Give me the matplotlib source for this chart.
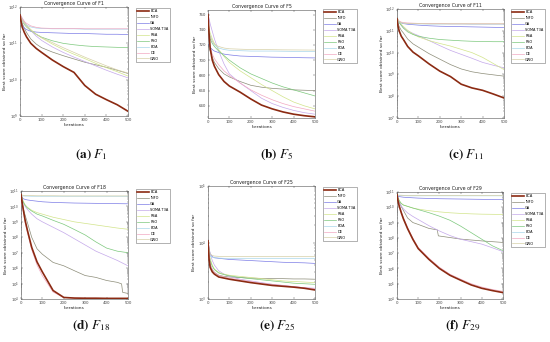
import matplotlib
matplotlib.use("Agg")
import matplotlib.pyplot as plt
import numpy as np
from matplotlib.ticker import LogLocator, LogFormatterMathtext, NullFormatter

plt.rcParams['mathtext.fontset'] = 'stix'

ALGOS = ["BCA", "INFO", "GA", "SOMA T3A", "RSA", "PSO", "BOA", "DE", "GWO"]
COLORS = ["#8B2A12", "#8C8C78", "#7C7CE6", "#C4A8EA", "#D2E48A",
          "#7CC87C", "#A8D6EA", "#F2A8C2", "#D6D0A6"]

ITERS = [0, 5, 10, 20, 30, 50, 75, 100, 150, 200, 250, 300, 350, 400, 450, 500]

# ---- F1 (log10 of best score) ----
F1_LOG = {
    "BCA":      [11.78, 11.6, 11.45, 11.3, 11.18, 11.0, 10.86, 10.75, 10.54, 10.36, 10.2, 9.84, 9.6, 9.45, 9.31, 9.13],
    "INFO":     [11.78, 11.65, 11.55, 11.42, 11.3, 11.12, 10.98, 10.88, 10.76, 10.66, 10.57, 10.48, 10.41, 10.34, 10.26, 10.17],
    "GA":       [11.78, 11.6, 11.5, 11.42, 11.38, 11.33, 11.31, 11.3, 11.29, 11.28, 11.27, 11.27, 11.26, 11.25, 11.25, 11.24],
    "SOMA T3A": [11.8, 11.75, 11.7, 11.6, 11.5, 11.35, 11.2, 11.08, 10.9, 10.75, 10.62, 10.5, 10.38, 10.26, 10.15, 10.05],
    "RSA":      [11.8, 11.72, 11.66, 11.57, 11.5, 11.38, 11.25, 11.15, 10.98, 10.83, 10.7, 10.58, 10.45, 10.33, 10.22, 10.1],
    "PSO":      [11.8, 11.7, 11.62, 11.52, 11.45, 11.35, 11.25, 11.17, 11.07, 11.0, 10.96, 10.93, 10.91, 10.9, 10.89, 10.88],
    "BOA":      [11.8, 11.7, 11.62, 11.55, 11.5, 11.45, 11.42, 11.41, 11.4, 11.4, 11.4, 11.39, 11.39, 11.39, 11.39, 11.39],
    "DE":       [11.8, 11.75, 11.68, 11.6, 11.55, 11.48, 11.44, 11.42, 11.41, 11.41, 11.41, 11.4, 11.4, 11.4, 11.4, 11.4],
    "GWO":      [11.8, 11.72, 11.64, 11.55, 11.47, 11.36, 11.25, 11.16, 11.02, 10.88, 10.75, 10.62, 10.5, 10.38, 10.27, 10.18],
}

# ---- F5 (best score) ----
F5_VAL = {
    "BCA":      [760, 735, 716, 700, 692, 681, 672, 666, 658, 649, 641, 636, 632, 629, 627, 625.5],
    "INFO":     [720, 716, 712, 704, 697, 689, 682, 678, 672, 667, 664.5, 663, 662, 661, 660.5, 660],
    "GA":       [721, 719, 717, 714, 712, 710, 708, 707, 705.5, 705, 704.5, 704, 703.8, 703.5, 703.2, 703],
    "SOMA T3A": [762, 755, 748, 738, 728, 712, 695, 682, 670, 660, 650, 643, 638, 634, 631, 629],
    "RSA":      [750, 742, 736, 728, 722, 714, 705, 697, 686, 677, 668, 660, 652, 645, 640, 636],
    "PSO":      [740, 733, 728, 722, 718, 712, 706, 700, 690, 682, 676, 670, 665, 661, 657, 653],
    "BOA":      [745, 738, 732, 725, 720, 716, 714, 713, 712.5, 712, 712, 712, 711.8, 711.6, 711.5, 711.5],
    "DE":       [735, 725, 717, 708, 702, 694, 686, 680, 670, 661, 654, 648, 643, 639, 636, 633],
    "GWO":      [750, 740, 732, 725, 721, 718, 716, 715, 714.5, 714, 714, 713.8, 713.6, 713.5, 713.4, 713.3],
}

# ---- F11 (log10) ----
F11_LOG = {
    "BCA":      [11.55, 11.2, 11.0, 10.75, 10.6, 10.28, 10.02, 9.85, 9.48, 9.15, 8.9, 8.55, 8.38, 8.27, 8.1, 7.92],
    "INFO":     [11.55, 11.35, 11.2, 11.02, 10.9, 10.62, 10.4, 10.25, 9.95, 9.7, 9.45, 9.25, 9.12, 9.04, 8.98, 8.92],
    "GA":       [11.55, 11.45, 11.4, 11.36, 11.33, 11.3, 11.28, 11.26, 11.23, 11.21, 11.2, 11.19, 11.18, 11.17, 11.16, 11.15],
    "SOMA T3A": [11.6, 11.5, 11.4, 11.25, 11.15, 11.0, 10.88, 10.78, 10.55, 10.32, 10.1, 9.92, 9.74, 9.55, 9.42, 9.3],
    "RSA":      [11.6, 11.5, 11.42, 11.3, 11.2, 11.02, 10.85, 10.72, 10.55, 10.42, 10.3, 10.15, 10.0, 9.78, 9.5, 9.22],
    "PSO":      [11.6, 11.48, 11.38, 11.25, 11.12, 10.95, 10.83, 10.75, 10.66, 10.6, 10.57, 10.54, 10.52, 10.51, 10.5, 10.5],
    "BOA":      [11.6, 11.45, 11.4, 11.37, 11.35, 11.33, 11.32, 11.32, 11.31, 11.31, 11.31, 11.31, 11.3, 11.3, 11.3, 11.3],
    "DE":       [11.6, 11.5, 11.45, 11.4, 11.38, 11.36, 11.35, 11.34, 11.33, 11.33, 11.32, 11.32, 11.32, 11.32, 11.32, 11.32],
    "GWO":      [11.6, 11.5, 11.42, 11.38, 11.35, 11.34, 11.33, 11.33, 11.32, 11.32, 11.32, 11.32, 11.32, 11.32, 11.32, 11.32],
}

# ---- F18 (log10) ----
F18_INFO_ITERS = [0, 5, 10, 20, 30, 50, 75, 100, 150, 200, 250, 300, 350, 400, 450, 470, 475, 500]
F18_INFO_LOG = [10.78, 10.3, 9.9, 9.4, 8.95, 8.0, 7.25, 6.9, 6.37, 6.15, 5.83, 5.52, 5.4, 5.2, 5.08, 4.98, 4.43, 4.36]
F18_LOG = {
    "BCA":      [10.78, 10.3, 9.85, 9.05, 8.45, 7.35, 6.4, 5.75, 4.55, 4.1, 4.06, 4.05, 4.05, 4.04, 4.04, 4.04],
    "GA":       [10.78, 10.6, 10.5, 10.45, 10.42, 10.38, 10.34, 10.3, 10.26, 10.24, 10.22, 10.21, 10.2, 10.19, 10.18, 10.17],
    "SOMA T3A": [10.8, 10.5, 10.3, 10.0, 9.8, 9.5, 9.2, 9.0, 8.65, 8.3, 7.9, 7.5, 7.1, 6.8, 6.5, 6.15],
    "RSA":      [10.8, 10.55, 10.35, 10.1, 9.95, 9.75, 9.6, 9.5, 9.3, 9.15, 9.0, 8.9, 8.8, 8.7, 8.6, 8.52],
    "PSO":      [10.8, 10.5, 10.3, 10.05, 9.9, 9.7, 9.5, 9.38, 9.1, 8.84, 8.5, 8.15, 7.7, 7.3, 7.1, 7.0],
    "BOA":      [10.8, 10.7, 10.68, 10.67, 10.67, 10.66, 10.66, 10.66, 10.66, 10.66, 10.66, 10.66, 10.66, 10.66, 10.66, 10.66],
    "DE":       [10.78, 10.2, 9.7, 8.9, 8.3, 7.2, 6.2, 5.5, 4.45, 4.09, 4.06, 4.05, 4.05, 4.04, 4.04, 4.04],
    "GWO":      [10.8, 10.74, 10.72, 10.71, 10.7, 10.7, 10.69, 10.69, 10.69, 10.68, 10.68, 10.68, 10.68, 10.68, 10.68, 10.68],
}

# ---- F25 (log10) ----
F25_LOG = {
    "BCA":      [4.03, 3.7, 3.56, 3.48, 3.44, 3.39, 3.37, 3.35, 3.32, 3.29, 3.265, 3.24, 3.225, 3.21, 3.19, 3.16],
    "INFO":     [4.03, 3.75, 3.62, 3.52, 3.47, 3.42, 3.4, 3.39, 3.38, 3.37, 3.365, 3.36, 3.36, 3.355, 3.355, 3.35],
    "GA":       [4.03, 3.9, 3.8, 3.75, 3.73, 3.72, 3.71, 3.7, 3.69, 3.68, 3.67, 3.66, 3.65, 3.645, 3.64, 3.63],
    "SOMA T3A": [4.05, 3.9, 3.8, 3.68, 3.6, 3.5, 3.44, 3.4, 3.35, 3.32, 3.29, 3.26, 3.24, 3.22, 3.2, 3.19],
    "RSA":      [4.03, 3.85, 3.72, 3.6, 3.53, 3.47, 3.44, 3.42, 3.4, 3.38, 3.36, 3.34, 3.32, 3.31, 3.3, 3.29],
    "PSO":      [4.03, 3.8, 3.68, 3.58, 3.52, 3.46, 3.43, 3.41, 3.38, 3.36, 3.34, 3.32, 3.3, 3.28, 3.27, 3.26],
    "BOA":      [4.03, 3.85, 3.76, 3.74, 3.73, 3.725, 3.72, 3.72, 3.72, 3.72, 3.72, 3.72, 3.72, 3.72, 3.72, 3.72],
    "DE":       [4.03, 3.78, 3.62, 3.52, 3.47, 3.42, 3.39, 3.37, 3.34, 3.31, 3.28, 3.26, 3.24, 3.22, 3.2, 3.18],
    "GWO":      [4.03, 3.88, 3.8, 3.77, 3.76, 3.755, 3.75, 3.75, 3.75, 3.75, 3.75, 3.75, 3.75, 3.75, 3.75, 3.75],
}

# ---- F29 (log10) ----
F29_INFO_ITERS = [0, 5, 10, 20, 30, 50, 75, 100, 150, 190, 195, 250, 300, 350, 400, 450, 500]
F29_INFO_LOG = [10.82, 10.55, 10.35, 10.05, 9.8, 9.3, 9.0, 8.88, 8.62, 8.52, 8.13, 8.02, 7.92, 7.86, 7.8, 7.75, 7.7]
F29_LOG = {
    "BCA":      [10.82, 10.4, 10.1, 9.65, 9.25, 8.6, 7.9, 7.3, 6.6, 6.0, 5.55, 5.23, 4.92, 4.7, 4.55, 4.42],
    "GA":       [10.82, 10.72, 10.7, 10.68, 10.66, 10.64, 10.62, 10.6, 10.58, 10.56, 10.55, 10.54, 10.53, 10.52, 10.51, 10.5],
    "SOMA T3A": [10.82, 10.6, 10.4, 10.1, 9.9, 9.63, 9.4, 9.2, 8.8, 8.45, 8.15, 7.91, 7.75, 7.59, 7.35, 7.1],
    "RSA":      [10.82, 10.6, 10.45, 10.25, 10.15, 10.06, 9.95, 9.88, 9.78, 9.7, 9.64, 9.6, 9.57, 9.55, 9.54, 9.53],
    "PSO":      [10.82, 10.6, 10.45, 10.25, 10.15, 10.06, 9.95, 9.85, 9.65, 9.42, 9.15, 8.77, 8.34, 7.91, 7.48, 7.16],
    "BOA":      [10.82, 10.78, 10.77, 10.76, 10.76, 10.75, 10.75, 10.75, 10.75, 10.75, 10.75, 10.75, 10.75, 10.75, 10.75, 10.75],
    "DE":       [10.82, 10.45, 10.15, 9.72, 9.33, 8.68, 7.98, 7.38, 6.68, 6.08, 5.62, 5.3, 5.0, 4.78, 4.62, 4.5],
    "GWO":      [10.82, 10.8, 10.79, 10.79, 10.78, 10.78, 10.78, 10.78, 10.78, 10.78, 10.78, 10.78, 10.78, 10.78, 10.78, 10.78],
}

TITLES = ["F1", "F5", "F11", "F18", "F25", "F29"]
CAPTIONS = [r"$\mathbf{(a)}\ F_{1}$", r"$\mathbf{(b)}\ F_{5}$", r"$\mathbf{(c)}\ F_{11}$",
            r"$\mathbf{(d)}\ F_{18}$", r"$\mathbf{(e)}\ F_{25}$", r"$\mathbf{(f)}\ F_{29}$"]

W, H = 550, 342
fig = plt.figure(figsize=(W / 100, H / 100), dpi=100)

# axes boxes in pixels: left, top, right, bottom
BOXES = [(20, 7, 128, 116), (208, 10, 315, 118), (397, 9, 504, 118),
         (21, 191, 128, 299), (208, 186, 315, 299), (397, 192, 503, 299)]
LEGEND_POS = [(136, 8), (323, 9), (511, 9), (136, 189), (323, 187), (511, 193)]
CAPTION_POS = [(91, 155), (277, 155), (466, 155), (91, 326), (277, 326), (463, 326)]
YLIMS = [(1e9, 1e12), (624, 766), (1e7, 1e12), (1e4, 1e11), (1e3, 1e5), (1e4, 1e11)]

DATA = [F1_LOG, F5_VAL, F11_LOG, F18_LOG, F25_LOG, F29_LOG]
LOGSCALE = [True, False, True, True, True, True]

for i in range(6):
    l, t, r, b = BOXES[i]
    ax = fig.add_axes([l / W, 1 - b / H, (r - l) / W, (b - t) / H])
    d = DATA[i]
    handles = []
    for name, col in zip(ALGOS, COLORS):
        if name == "INFO" and i == 3:
            xs, ys = F18_INFO_ITERS, F18_INFO_LOG
        elif name == "INFO" and i == 5:
            xs, ys = F29_INFO_ITERS, F29_INFO_LOG
        else:
            xs, ys = ITERS, d[name]
        ys = np.array(ys, dtype=float)
        if LOGSCALE[i]:
            ys = 10 ** ys
        lw = 1.2 if name == "BCA" else 0.5
        z = 10 if name == "BCA" else 2
        h, = ax.plot(xs, ys, color=col, lw=lw, zorder=z, label=name)
        handles.append(h)
    if LOGSCALE[i]:
        ax.set_yscale("log")
        ax.yaxis.set_major_locator(LogLocator(base=10, numticks=20))
        ax.yaxis.set_major_formatter(LogFormatterMathtext())
        ax.yaxis.set_minor_locator(LogLocator(base=10, subs=np.arange(2, 10), numticks=50))
        ax.yaxis.set_minor_formatter(NullFormatter())
    else:
        ax.set_yticks([640, 660, 680, 700, 720, 740, 760])
    ax.set_ylim(*YLIMS[i])
    ax.set_xlim(0, 500)
    ax.set_xticks([0, 100, 200, 300, 400, 500])
    ax.tick_params(axis='both', which='both', direction='in', labelsize=2.8,
                   length=1.5, width=0.3, pad=1.2, colors='#444444',
                   top=True, right=True)
    ax.tick_params(axis='both', which='minor', length=0.8)
    for s in ax.spines.values():
        s.set_linewidth(0.4)
        s.set_color('#555555')
    ax.set_title("Convergence Curve of " + TITLES[i], fontsize=3.4, pad=1.5, color='#222222')
    ax.set_xlabel("Iterations", fontsize=3.2, labelpad=0.8, color='#222222')
    ax.set_ylabel("Best score obtained so far", fontsize=3.2, labelpad=1.0, color='#222222')
    lx, ly = LEGEND_POS[i]
    leg = fig.legend(handles=handles, loc='upper left',
                     bbox_to_anchor=(lx / W, 1 - ly / H), fontsize=2.5,
                     frameon=True, fancybox=False, edgecolor='#555555',
                     handlelength=3.2, handletextpad=0.5, labelspacing=0.55,
                     borderpad=0.4, borderaxespad=0)
    leg.get_frame().set_linewidth(0.4)
    cx, cy = CAPTION_POS[i]
    fig.text(cx / W, 1 - cy / H, CAPTIONS[i], fontsize=9.5, ha='center', va='center',
             color='#111111')

fig.savefig("out.png", dpi=100)
